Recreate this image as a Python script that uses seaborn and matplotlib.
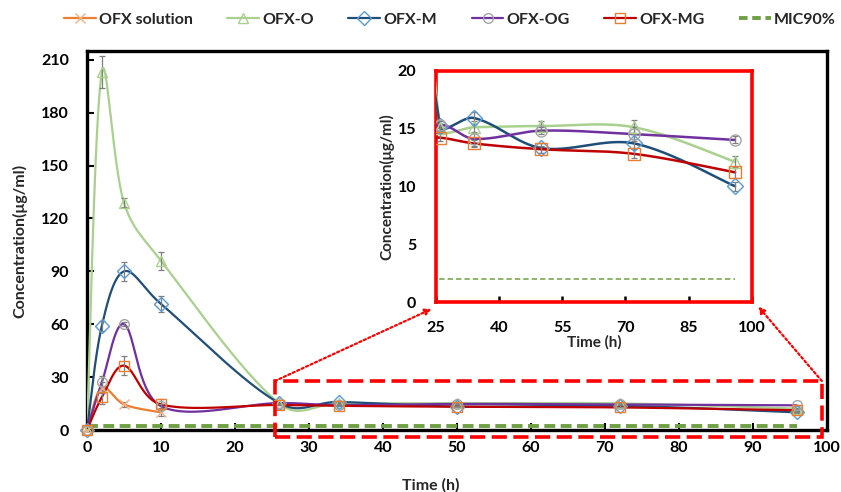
import numpy as np
import matplotlib
matplotlib.use("Agg")
import matplotlib.pyplot as plt
import seaborn as sns
from matplotlib.lines import Line2D
from matplotlib.patches import Rectangle

# ---------------- data ----------------
times = [0, 2, 5, 10, 26, 34, 50, 72, 96]
sol_times = [0, 2, 5, 10]
ofx_solution = [0, 24, 14.5, 10]
ofx_solution_err = [0, 3, 1.5, 2]
ofx_o = [0, 203, 129, 96, 15.0, 15.1, 15.2, 15.1, 12.1]
ofx_o_err = [0, 9, 2.5, 5, 0.4, 0.5, 0.4, 0.6, 0.5]
ofx_m = [0, 59, 90, 71.5, 15.2, 15.9, 13.3, 13.7, 10.0]
ofx_m_err = [0, 3, 5.5, 4.3, 0.4, 0.5, 0.4, 0.4, 0.4]
ofx_og = [0, 27, 60, 13.5, 15.3, 14.1, 14.8, 14.5, 14.0]
ofx_og_err = [0, 3.5, 1, 1, 0.3, 0.6, 0.3, 0.6, 0.3]
ofx_mg = [0, 18.5, 36.5, 14.5, 14.2, 13.7, 13.2, 12.8, 11.2]
ofx_mg_err = [0, 4, 5.4, 3, 0.3, 0.3, 0.3, 0.4, 0.5]
mic_times = [0, 96]
mic90 = [2, 2]
labels = ["OFX solution", "OFX-O", "OFX-M", "OFX-OG", "OFX-MG", "MIC90%"]
main_yticks = [0, 30, 60, 90, 120, 150, 180, 210]
main_xticks = [0, 10, 20, 30, 40, 50, 60, 70, 80, 90, 100]
inset_xticks = [25, 40, 55, 70, 85, 100]
inset_yticks = [0, 5, 10, 15, 20]

series = [
    (sol_times, ofx_solution, ofx_solution_err, "#ED7D31", "#F4B183", "x"),
    (times, ofx_o, ofx_o_err, "#A9D18E", "#A9D18E", "^"),
    (times, ofx_m, ofx_m_err, "#1F4E79", "#5B9BD5", "D"),
    (times, ofx_og, ofx_og_err, "#7030A0", "#A5A5A5", "o"),
    (times, ofx_mg, ofx_mg_err, "#C00000", "#ED7D31", "s"),
]
mic_color = "#6FA043"

sns.set_theme(style="white")
plt.rcParams['font.family'] = ['Lato', 'DejaVu Sans']
plt.rcParams['font.weight'] = 'bold'


def smooth(x, y, sx, sy, expo=1.0, n=50):
    """Excel-like smoothed path: Bezier in screen space, tangents scaled by chord lengths."""
    P = np.column_stack([np.asarray(x, float) * sx, np.asarray(y, float) * sy])
    m = len(P)
    cout = np.zeros_like(P)
    cin = np.zeros_like(P)
    for i in range(m):
        p0 = P[i - 1] if i > 0 else P[i]
        p2 = P[i + 1] if i < m - 1 else P[i]
        tang = (p2 - p0) / 6
        d01 = np.linalg.norm(P[i] - p0)
        d12 = np.linalg.norm(p2 - P[i])
        tot = d01 + d12
        if 0 < i < m - 1 and tot > 0:
            fo = (2 * d12 / tot) ** expo
            fi = (2 * d01 / tot) ** expo
        else:
            fo = fi = 1.0
        cout[i] = P[i] + tang * fo
        cin[i] = P[i] - tang * fi
    out = []
    t = np.linspace(0, 1, n)[:, None]
    for i in range(m - 1):
        p1, p2 = P[i], P[i + 1]
        c1, c2 = cout[i], cin[i + 1]
        seg = (1 - t) ** 3 * p1 + 3 * (1 - t) ** 2 * t * c1 + 3 * (1 - t) * t ** 2 * c2 + t ** 3 * p2
        out.append(seg if i == 0 else seg[1:])
    out = np.vstack(out)
    return out[:, 0] / sx, out[:, 1] / sy


W, H = 841, 492
fig = plt.figure(figsize=(W / 100, H / 100), dpi=100)

# ---------------- main axes ----------------
ax = fig.add_axes([87 / W, 1 - 430 / H, (827 - 87) / W, (430 - 51) / H])
ax.set_xlim(0, 100)
ax.set_ylim(0, 215)
sx_main = (827 - 87) / 100
sy_main = (430 - 51) / 215

for (tx, ty, te, lc, mc, mk) in series:
    xs, ys = smooth(tx, ty, sx_main, sy_main, expo=0.5)
    sns.lineplot(x=xs, y=ys, sort=False, estimator=None, color=lc, lw=1.6, ax=ax, zorder=3)
    ax.errorbar(tx, ty, yerr=te, fmt="none", ecolor="#7F7F7F", elinewidth=0.9, capsize=2.5, capthick=0.9, zorder=4)
    ax.plot(tx, ty, ls="none", marker=mk, ms=7, mfc="none", mec=mc, mew=1.0, zorder=5, clip_on=False)

sns.lineplot(x=mic_times, y=mic90, color=mic_color, lw=2.8, ax=ax, zorder=2)
ax.lines[-1].set_dashes((2.8, 1.4))

ax.set_xticks(main_xticks)
ax.set_yticks(main_yticks)
ax.tick_params(axis="x", direction="in", length=5, width=1.5, labelsize=11.5, pad=8, colors="black", bottom=True)
ax.tick_params(axis="y", direction="in", length=5, width=1.5, labelsize=11.5, pad=13, colors="black", left=True)
for lab in ax.get_xticklabels() + ax.get_yticklabels():
    lab.set_fontweight("bold")
for s in ax.spines.values():
    s.set_color("black")
    s.set_linewidth(2.4)
ax.set_xlabel("Time (h)", fontsize=11.5, fontweight="bold")
ax.xaxis.set_label_coords((431 - 87) / (827 - 87), -0.127)
ax.set_ylabel("Concentration(μg/ml)", fontsize=11.5, fontweight="bold")
ax.yaxis.set_label_coords(-0.081, 0.5)

# zoom rectangle
rect = Rectangle((25.4, -3.8), 73.9, 31.6, fill=False, ec="red", lw=2.6, ls=(0, (4.2, 1.8)),
                 clip_on=False, zorder=6)
ax.add_patch(rect)

# ---------------- inset ----------------
ix0, ix1, iy0, iy1 = 435.7, 752, 70.5, 302
axi = fig.add_axes([ix0 / W, 1 - iy1 / H, (ix1 - ix0) / W, (iy1 - iy0) / H])
axi.set_xlim(25, 100)
axi.set_ylim(0, 20)
sx_in = (ix1 - ix0) / 75
sy_in = (iy1 - iy0) / 20
axi.set_facecolor("white")
for (tx, ty, te, lc, mc, mk) in series[1:]:
    xs, ys = smooth(tx, ty, sx_in, sy_in, expo=1.0)
    sns.lineplot(x=xs, y=ys, sort=False, estimator=None, color=lc, lw=1.8, ax=axi, zorder=3)
    axi.errorbar(tx, ty, yerr=te, fmt="none", ecolor="#7F7F7F", elinewidth=0.9, capsize=2.5, capthick=0.9, zorder=4)
    axi.plot(tx, ty, ls="none", marker=mk, ms=8, mfc="none", mec=mc, mew=1.0, zorder=5)
sns.lineplot(x=mic_times, y=mic90, color=mic_color, lw=1.1, ax=axi, zorder=2)
axi.lines[-1].set_dashes((3.5, 2))
axi.set_xticks(inset_xticks)
axi.set_yticks(inset_yticks)
axi.tick_params(axis="x", direction="in", length=4, width=1.8, labelsize=11.5, pad=14, colors="black", bottom=True)
axi.tick_params(axis="y", length=0, labelsize=11.5, pad=14, colors="black")
for lab in axi.get_xticklabels() + axi.get_yticklabels():
    lab.set_fontweight("bold")
for s in axi.spines.values():
    s.set_color("red")
    s.set_linewidth(2.6)
axi.set_xlabel("Time (h)", fontsize=11, fontweight="bold", labelpad=0)
axi.set_ylabel("Concentration(μg/ml)", fontsize=11, fontweight="bold", labelpad=2)

# dotted arrows from rectangle to inset
arrow_kw = dict(arrowstyle="-|>", color="red", lw=1.6, ls=(0, (1, 1.2)), mutation_scale=9, shrinkA=0, shrinkB=0)
ax.annotate("", xy=(-0.013, -0.03), xycoords=axi.transAxes, xytext=(25.4, 27.8), textcoords="data",
            arrowprops=arrow_kw, annotation_clip=False)
ax.annotate("", xy=(1.02, -0.02), xycoords=axi.transAxes, xytext=(99.3, 27.8), textcoords="data",
            arrowprops=arrow_kw, annotation_clip=False)

# ---------------- legend ----------------
handles = []
for (tx, ty, te, lc, mc, mk) in series:
    handles.append(Line2D([], [], color=lc, lw=1.6, marker=mk, ms=7, mfc="none", mec=mc, mew=1.0))
handles.append(Line2D([], [], color=mic_color, lw=2.8, dashes=(2.2, 1.2)))
leg = fig.legend(handles, labels, loc="center", bbox_to_anchor=(450 / W, 1 - 20 / H), ncol=6, frameon=False,
                 prop=dict(size=11.5, weight="bold"), handlelength=2.0, handletextpad=0.2, columnspacing=2.15,
                 borderaxespad=0, borderpad=0)

fig.savefig("out.png", dpi=100, facecolor="white")
